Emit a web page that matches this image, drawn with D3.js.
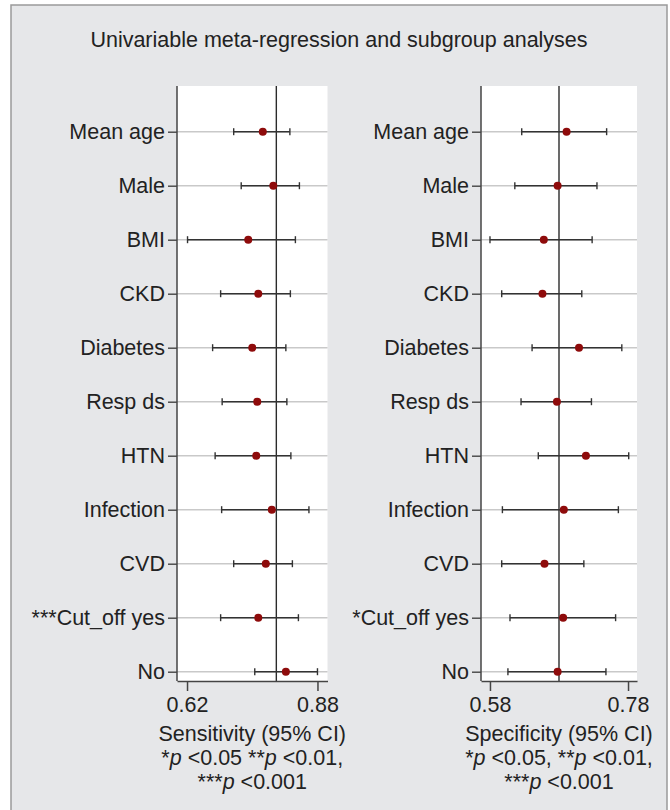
<!DOCTYPE html>
<html>
<head>
<meta charset="utf-8">
<script src="https://cdn.jsdelivr.net/npm/d3@7"></script>
<style>
  html, body { margin: 0; padding: 0; background: #ffffff; }
  svg { display: block; font-family: "Liberation Sans", Arial, Helvetica, sans-serif; }
</style>
</head>
<body>
<svg id="chart" width="670" height="810"></svg>
<script>
// Covariates tested in the meta-regression / subgroup analyses
const categories = ["Mean age", "Male", "BMI", "CKD", "Diabetes", "Resp ds", "HTN", "Infection", "CVD", "Cut_off yes", "No"];
const sensLabels = ["Mean age", "Male", "BMI", "CKD", "Diabetes", "Resp ds", "HTN", "Infection", "CVD", "***Cut_off yes", "No"];
const specLabels = ["Mean age", "Male", "BMI", "CKD", "Diabetes", "Resp ds", "HTN", "Infection", "CVD", "*Cut_off yes", "No"];

// Sensitivity estimates with 95% CI
const sensEst = [0.771, 0.792, 0.742, 0.762, 0.750, 0.760, 0.758, 0.789, 0.777, 0.762, 0.817];
const sensLo  = [0.713, 0.728, 0.621, 0.687, 0.671, 0.690, 0.676, 0.689, 0.713, 0.687, 0.755];
const sensHi  = [0.825, 0.844, 0.836, 0.826, 0.817, 0.819, 0.827, 0.863, 0.830, 0.842, 0.880];
const sensPooled = 0.798;
const sensTicks = [0.62, 0.88];

// Specificity estimates with 95% CI
const specEst = [0.691, 0.678, 0.658, 0.656, 0.709, 0.677, 0.719, 0.687, 0.659, 0.686, 0.678];
const specLo  = [0.626, 0.616, 0.580, 0.597, 0.641, 0.625, 0.650, 0.598, 0.597, 0.609, 0.606];
const specHi  = [0.749, 0.735, 0.728, 0.713, 0.771, 0.727, 0.781, 0.766, 0.716, 0.762, 0.748];
const specPooled = 0.680;
const specTicks = [0.58, 0.78];

const svg = d3.select("#chart");
const FS = 21.5;

// Outer gray panel with thin border
svg.append("rect").attr("x", 11).attr("y", 5).attr("width", 656).attr("height", 820)
  .attr("fill", "#e6e7e9").attr("stroke", "#9a9a9a").attr("stroke-width", 1.5);

svg.append("text").attr("x", 339).attr("y", 47).attr("text-anchor", "middle")
  .attr("font-size", FS).attr("fill", "#222")
  .text("Univariable meta-regression and subgroup analyses");

const plotTop = 86, plotBottom = 681;
const y = d3.scalePoint().domain(categories).range([131.7, 671.7]);

function panel(cfg) {
  const x = d3.scaleLinear().domain(cfg.domain).range(cfg.range);
  const g = svg.append("g");
  const [x0, x1] = cfg.range;

  // white plotting region
  g.append("rect").attr("x", x0).attr("y", plotTop).attr("width", x1 - x0).attr("height", plotBottom - plotTop)
    .attr("fill", "#ffffff");

  // horizontal row guides
  g.selectAll(".grid").data(categories).join("line")
    .attr("x1", x0).attr("x2", x1)
    .attr("y1", d => y(d)).attr("y2", d => y(d))
    .attr("stroke", "#c9c9c9").attr("stroke-width", 1.4);

  // pooled estimate reference line
  g.append("line").attr("x1", x(cfg.pooled)).attr("x2", x(cfg.pooled))
    .attr("y1", plotTop).attr("y2", plotBottom)
    .attr("stroke", "#2b2b2b").attr("stroke-width", 1.4);

  // y axis with category labels
  const yAxis = d3.axisLeft(y).tickSize(9).tickPadding(3).tickFormat((d, i) => cfg.labels[i]);
  const ya = g.append("g").attr("transform", `translate(${x0},0)`).call(yAxis);
  ya.select(".domain").remove();
  ya.selectAll(".tick line").attr("stroke", "#444").attr("stroke-width", 1.4);
  ya.selectAll(".tick text").attr("font-size", FS).attr("fill", "#222")
    .attr("font-family", "Liberation Sans, Arial, sans-serif");
  g.append("line").attr("x1", x0).attr("x2", x0).attr("y1", plotTop).attr("y2", plotBottom)
    .attr("stroke", "#444").attr("stroke-width", 1.5);

  // x axis
  const xAxis = d3.axisBottom(x).tickValues(cfg.ticks).tickSize(10).tickSizeOuter(0)
    .tickPadding(6).tickFormat(d3.format(".2f"));
  const xa = g.append("g").attr("transform", `translate(0,${plotBottom})`).call(xAxis);
  xa.select(".domain").attr("stroke", "#444").attr("stroke-width", 1.5);
  xa.selectAll(".tick line").attr("stroke", "#444").attr("stroke-width", 1.5);
  xa.selectAll(".tick text").attr("font-size", FS).attr("fill", "#222")
    .attr("font-family", "Liberation Sans, Arial, sans-serif");

  // confidence intervals
  const rows = categories.map((c, i) => ({ c, est: cfg.est[i], lo: cfg.lo[i], hi: cfg.hi[i] }));
  const ci = g.selectAll(".ci").data(rows).join("g");
  ci.append("line").attr("x1", d => x(d.lo)).attr("x2", d => x(d.hi))
    .attr("y1", d => y(d.c)).attr("y2", d => y(d.c))
    .attr("stroke", "#333").attr("stroke-width", 1.4);
  ci.append("line").attr("x1", d => x(d.lo)).attr("x2", d => x(d.lo))
    .attr("y1", d => y(d.c) - 3.5).attr("y2", d => y(d.c) + 3.5)
    .attr("stroke", "#333").attr("stroke-width", 1.4);
  ci.append("line").attr("x1", d => x(d.hi)).attr("x2", d => x(d.hi))
    .attr("y1", d => y(d.c) - 3.5).attr("y2", d => y(d.c) + 3.5)
    .attr("stroke", "#333").attr("stroke-width", 1.4);
  ci.append("circle").attr("cx", d => x(d.est)).attr("cy", d => y(d.c)).attr("r", 4)
    .attr("fill", "#8e0b0b");

  // axis title and significance key
  const cx = (x0 + x1) / 2;
  const t = g.append("g").attr("font-size", FS).attr("fill", "#222").attr("text-anchor", "middle");
  t.append("text").attr("x", cx).attr("y", 741).text(cfg.title);
  const l2 = t.append("text").attr("x", cx).attr("y", 765);
  cfg.key.forEach(part => {
    l2.append("tspan").attr("font-style", part.it ? "italic" : "normal").text(part.t);
  });
  const l3 = t.append("text").attr("x", cx).attr("y", 789);
  l3.append("tspan").text("***");
  l3.append("tspan").attr("font-style", "italic").text("p");
  l3.append("tspan").text(" <0.001");
}

panel({
  domain: [0.6, 0.9], range: [177, 327.5], ticks: sensTicks, pooled: sensPooled,
  labels: sensLabels, est: sensEst, lo: sensLo, hi: sensHi,
  title: "Sensitivity (95% CI)",
  key: [{ t: "*" }, { t: "p", it: true }, { t: " <0.05 **" }, { t: "p", it: true }, { t: " <0.01," }]
});

panel({
  domain: [0.567, 0.793], range: [481, 637], ticks: specTicks, pooled: specPooled,
  labels: specLabels, est: specEst, lo: specLo, hi: specHi,
  title: "Specificity (95% CI)",
  key: [{ t: "*" }, { t: "p", it: true }, { t: " <0.05, **" }, { t: "p", it: true }, { t: " <0.01," }]
});
</script>
</body>
</html>
